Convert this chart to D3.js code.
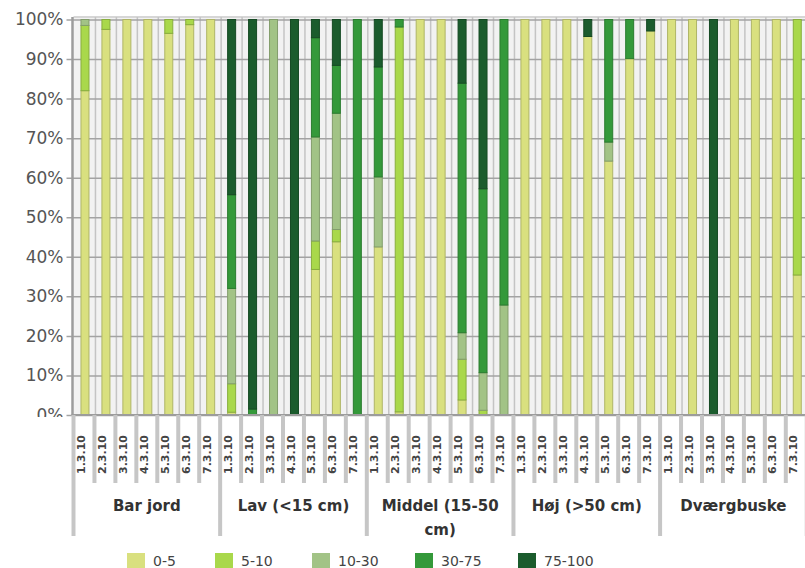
<!DOCTYPE html>
<html>
<head>
<meta charset="utf-8">
<script src="https://cdn.jsdelivr.net/npm/d3@7"></script>
<style>
  body { margin: 0; background: #fff; }
  svg { display: block; font-family: "DejaVu Sans", Verdana, sans-serif; }
</style>
</head>
<body>
<svg id="chart" width="805" height="568"></svg>
<script>
// Vegetation height groups and the sub-plots within each group
const groups = ["Bar jord", "Lav (<15 cm)", "Middel (15-50 cm)", "Høj (>50 cm)", "Dværgbuske"];
const subLabels = ["1.3.10", "2.3.10", "3.3.10", "4.3.10", "5.3.10", "6.3.10", "7.3.10"];

// Cover classes (%) and their colours
const classes = ["0-5", "5-10", "10-30", "30-75", "75-100"];
const classColors = ["#d9e07f", "#a9d84b", "#a2c386", "#34993a", "#1b5c2d"];

// Share (%) of each cover class per bar, 7 bars per group
const cover0to5 = [
  82, 97.5, 100, 100, 96.5, 98.7, 100,
  0.7, 0, 0, 0, 36.8, 43.8, 0,
  42.5, 0.8, 100, 100, 3.8, 0, 0,
  100, 100, 100, 95.7, 64.2, 90.1, 97.1,
  100, 100, 0, 100, 100, 100, 35.4
];
const cover5to10 = [
  16.5, 2.5, 0, 0, 3.5, 1.3, 0,
  7.2, 0, 0, 0, 7.2, 3.1, 0,
  0, 97.3, 0, 0, 10.3, 1.2, 0,
  0, 0, 0, 0, 0, 0, 0,
  0, 0, 0, 0, 0, 0, 64.6
];
const cover10to30 = [
  1.5, 0, 0, 0, 0, 0, 0,
  24.1, 0, 100, 0, 26.3, 29.4, 0,
  17.7, 0, 0, 0, 6.7, 9.5, 27.8,
  0, 0, 0, 0, 4.8, 0, 0,
  0, 0, 0, 0, 0, 0, 0
];
const cover30to75 = [
  0, 0, 0, 0, 0, 0, 0,
  23.7, 1.5, 0, 0, 25.1, 12.1, 100,
  27.8, 1.9, 0, 0, 63.1, 46.5, 72.2,
  0, 0, 0, 0, 31, 9.9, 0,
  0, 0, 0, 0, 0, 0, 0
];
const cover75to100 = [
  0, 0, 0, 0, 0, 0, 0,
  44.3, 98.5, 0, 100, 4.6, 11.6, 0,
  12, 0, 0, 0, 16.1, 42.8, 0,
  0, 0, 0, 4.3, 0, 0, 2.9,
  0, 0, 100, 0, 0, 0, 0
];
const yTicks = [0, 10, 20, 30, 40, 50, 60, 70, 80, 90, 100];

const seriesArrays = [cover0to5, cover5to10, cover10to30, cover30to75, cover75to100];
const nPer = subLabels.length;
const rows = [];
groups.forEach((g, gi) => {
  subLabels.forEach((s, si) => {
    const i = gi * nPer + si;
    const r = { id: i, group: g, sub: s };
    classes.forEach((c, ci) => { r[c] = seriesArrays[ci][i]; });
    rows.push(r);
  });
});

const svg = d3.select("#chart");
const plotTop = 17, plotBottom = 415, left = 73.5;
const slot = 20.95;

const x = d3.scaleBand().domain(rows.map(d => d.id))
  .range([left, left + slot * rows.length]).padding(0);
const y = d3.scaleLinear().domain([0, 100]).range([plotBottom, 19.5]);
const color = d3.scaleOrdinal().domain(classes).range(classColors);

// plot background
svg.append("rect")
  .attr("x", left).attr("y", plotTop)
  .attr("width", 805 - left).attr("height", plotBottom - plotTop)
  .attr("fill", "#f2f2f2");
svg.append("line")
  .attr("x1", left).attr("x2", 805)
  .attr("y1", plotTop).attr("y2", plotTop)
  .attr("stroke", "#d6d6d6").attr("stroke-width", 2);

// vertical separators between bars inside the plot
svg.append("g").selectAll("line")
  .data(rows.slice(1))
  .join("line")
  .attr("x1", d => x(d.id) + 1).attr("x2", d => x(d.id) + 1)
  .attr("y1", plotTop).attr("y2", plotBottom)
  .attr("stroke", "#c4c4c4").attr("stroke-width", 1.5);

// horizontal gridlines + y axis labels
const yAxis = svg.append("g")
  .attr("transform", `translate(${left},0)`)
  .call(d3.axisLeft(y).tickValues(yTicks).tickFormat(d => d + "%")
    .tickSize(0).tickPadding(10));
yAxis.select(".domain").remove();
yAxis.selectAll(".tick line").remove();
yAxis.selectAll(".tick").append("line")
  .attr("x1", -7).attr("x2", 805 - left)
  .attr("stroke", "#a3a3a3").attr("stroke-width", 1.5);
yAxis.selectAll("text")
  .attr("fill", "#555").attr("font-size", 17)
  .attr("font-family", "DejaVu Sans, sans-serif");

// stacked bars
const stacked = d3.stack().keys(classes)(rows);
const bw = 8;
svg.append("g").selectAll("g")
  .data(stacked)
  .join("g")
  .attr("fill", d => color(d.key))
  .attr("stroke", d => d3.color(color(d.key)).darker(0.6))
  .attr("stroke-width", 1)
  .selectAll("rect")
  .data(d => d.filter(v => v[1] - v[0] > 0))
  .join("rect")
  .attr("x", d => x(d.data.id) + x.bandwidth() / 2 - bw / 2 + 1)
  .attr("width", bw)
  .attr("y", d => y(d[1]))
  .attr("height", d => y(d[0]) - y(d[1]));

// white band below the plot hides the lower half of the 0% label
svg.append("rect")
  .attr("x", 0).attr("y", plotBottom + 2)
  .attr("width", left).attr("height", 20)
  .attr("fill", "#fff");

// y axis line and bottom axis line
svg.append("line")
  .attr("x1", left - 1).attr("x2", left - 1)
  .attr("y1", plotTop).attr("y2", plotBottom)
  .attr("stroke", "#9c9c9c").attr("stroke-width", 2.5);
svg.append("line")
  .attr("x1", left - 2).attr("x2", 805)
  .attr("y1", plotBottom).attr("y2", plotBottom)
  .attr("stroke", "#9c9c9c").attr("stroke-width", 2);

// category separators in the label area
svg.append("g").selectAll("line")
  .data(rows.concat([{ id: "end" }]))
  .join("line")
  .attr("x1", (d, i) => left + slot * i)
  .attr("x2", (d, i) => left + slot * i)
  .attr("y1", plotBottom)
  .attr("y2", (d, i) => i % nPer === 0 ? 536 : 483)
  .attr("stroke", "#c6c6c6").attr("stroke-width", 4);

// rotated sub-plot labels
svg.append("g").selectAll("text")
  .data(rows)
  .join("text")
  .attr("transform", d => `translate(${x(d.id) + 11.5},435) rotate(-90)`)
  .attr("text-anchor", "end")
  .attr("font-size", 11)
  .attr("font-weight", "bold")
  .attr("fill", "#444")
  .text(d => d.sub);

// group labels, wrapped to the group width
const groupW = slot * nPer;
groups.forEach((g, gi) => {
  const cx = left + groupW * gi + groupW / 2;
  const t = svg.append("text")
    .attr("x", cx).attr("y", 511)
    .attr("text-anchor", "middle")
    .attr("font-size", 15).attr("font-weight", "bold")
    .attr("fill", "#333");
  const words = g.split(" ");
  let line = [];
  let tspan = t.append("tspan").attr("x", cx).attr("dy", 0);
  words.forEach(w => {
    line.push(w);
    tspan.text(line.join(" "));
    if (tspan.node().getComputedTextLength() > groupW - 14 && line.length > 1) {
      line.pop();
      tspan.text(line.join(" "));
      line = [w];
      tspan = t.append("tspan").attr("x", cx).attr("dy", 24).text(w);
    }
  });
});

// legend
const legendX = [127, 215, 312, 415, 518];
const legend = svg.append("g").selectAll("g")
  .data(classes)
  .join("g")
  .attr("transform", (d, i) => `translate(${legendX[i]},553)`);
legend.append("rect")
  .attr("width", 18).attr("height", 15)
  .attr("fill", d => color(d));
legend.append("text")
  .attr("x", 26).attr("y", 13)
  .attr("font-size", 14).attr("fill", "#444")
  .text(d => d);
</script>
</body>
</html>
